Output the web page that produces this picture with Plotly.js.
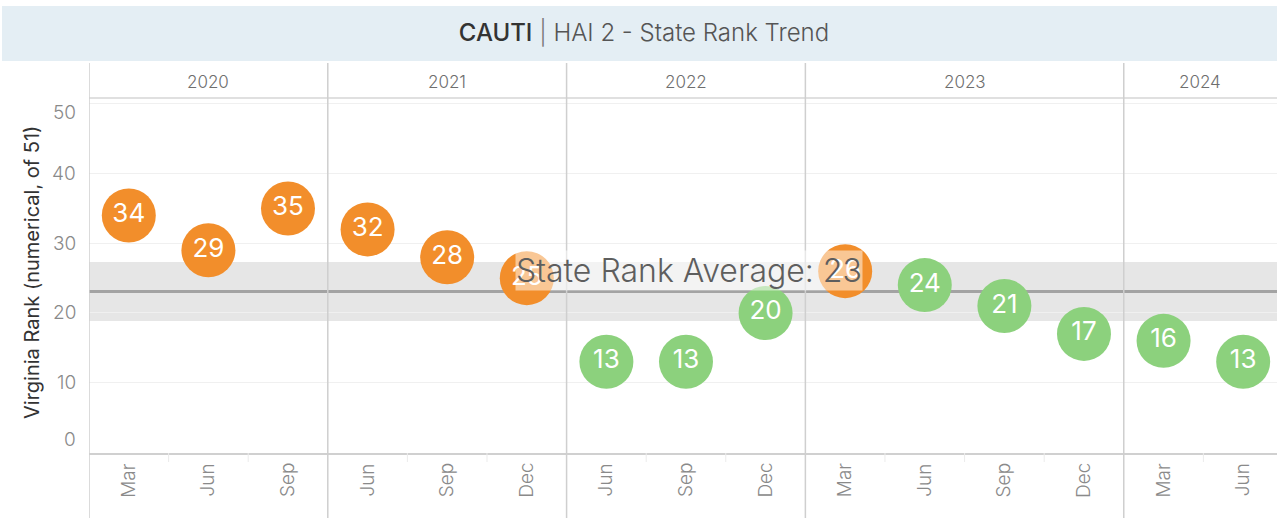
<!DOCTYPE html>
<html>
<head>
<meta charset="utf-8">
<script src="https://cdn.plot.ly/plotly-3.0.1.min.js"></script>
<style>
  html, body { margin: 0; padding: 0; background: #ffffff; }
  #chart { width: 1277px; height: 518px; }
</style>
</head>
<body>
<div id="chart"></div>
<script>
// ---- Data ----
const months = ['Mar','Jun','Sep','Jun','Sep','Dec','Jun','Sep','Dec','Mar','Jun','Sep','Dec','Mar','Jun'];
const years  = ['2020','2020','2020','2021','2021','2021','2022','2022','2022','2023','2023','2023','2023','2024','2024'];
const ranks  = [34, 29, 35, 32, 28, 25, 13, 13, 20, 26, 24, 21, 17, 16, 13];
const yearLabels = ['2020','2021','2022','2023','2024'];
const yTickVals = [0, 10, 20, 30, 40, 50];
const rankThreshold = 25;   // ranks at or above this are drawn orange
const titleBold = 'CAUTI';
const titleRest = 'HAI 2 - State Rank Trend';
const yTitle = 'Virginia Rank (numerical, of 51)';

// ---- Derived statistics (reference line and 95% CI band) ----
const n = ranks.length;
const avg = ranks.reduce((a, b) => a + b, 0) / n;
const sd = Math.sqrt(ranks.reduce((a, b) => a + (b - avg) * (b - avg), 0) / (n - 1));
const tCrit = 2.145; // t(0.975, 14)
const half = tCrit * sd / Math.sqrt(n);
const bandLo = avg - half, bandHi = avg + half;

const FONT = 'Inter, "Open Sans", sans-serif';
const ORANGE = '#f28e2b';
const GREEN = '#8cd17d';

const xs = ranks.map((_, i) => i);
const colors = ranks.map(r => r >= rankThreshold ? ORANGE : GREEN);

// plot geometry helpers (pixels -> paper)
const plotTop = 98, plotBottom = 453, plotH = plotBottom - plotTop;
const plotLeft = 89, plotW = 1277 - 89;
const py = p => (plotBottom - p) / plotH;
const px = p => (p - plotLeft) / plotW;

const trace = {
  type: 'scatter',
  mode: 'markers+text',
  x: xs,
  y: ranks,
  text: ranks.map(String),
  textposition: 'middle center',
  textfont: { family: FONT, size: 26, color: '#ffffff', weight: 400 },
  marker: { size: 54, color: colors, line: { width: 0 } },
  hoverinfo: 'skip',
  cliponaxis: false
};

const shapes = [];
const annotations = [];

// title bar
shapes.push({ type: 'rect', xref: 'paper', yref: 'paper', x0: px(2), x1: 1.01, y0: py(61), y1: py(6),
  fillcolor: '#e4eef4', line: { width: 0 }, layer: 'below' });

// CI band + average line
shapes.push({ type: 'rect', xref: 'paper', yref: 'y', x0: 0, x1: 1, y0: bandLo, y1: bandHi,
  fillcolor: '#e6e6e6', line: { width: 0 }, layer: 'below' });
shapes.push({ type: 'line', xref: 'paper', yref: 'y', x0: 0, x1: 1, y0: avg, y1: avg,
  line: { color: '#a3a3a3', width: 3 }, layer: 'below' });

// header bottom line
shapes.push({ type: 'line', xref: 'paper', yref: 'paper', x0: 0, x1: 1, y0: 1, y1: 1,
  line: { color: '#d6d6d6', width: 1.5 } });

// year separators and header labels
const yearStarts = [];
years.forEach((y, i) => { if (i === 0 || years[i - 1] !== y) yearStarts.push(i); });
yearStarts.forEach((s, k) => {
  shapes.push({ type: 'line', xref: 'x', yref: 'paper', x0: s - 0.5, x1: s - 0.5, y0: py(518), y1: py(63),
    line: { color: '#cfcfcf', width: 1.5 } });
  const e = k + 1 < yearStarts.length ? yearStarts[k + 1] - 1 : n - 1;
  let c = (s + e) / 2;
  if (k === yearStarts.length - 1) c = (s - 0.5 + 14.425) / 2;
  annotations.push({ xref: 'x', yref: 'paper', x: c, y: py(82), text: yearLabels[k], showarrow: false,
    font: { family: FONT, size: 17, color: '#6e6e6e', weight: 300 }, xanchor: 'center', yanchor: 'middle' });
});

// minor month separators below axis
for (let i = 0; i < n - 1; i++) {
  if (years[i] === years[i + 1]) {
    shapes.push({ type: 'line', xref: 'x', yref: 'paper', x0: i + 0.5, x1: i + 0.5, y0: 0, y1: py(462),
      line: { color: '#ebebeb', width: 1 } });
  }
}

// month labels
months.forEach((m, i) => {
  annotations.push({ xref: 'x', yref: 'paper', x: i, y: py(480), text: m, showarrow: false, textangle: -90,
    font: { family: FONT, size: 19, color: '#8a8a8a', weight: 300 }, xanchor: 'center', yanchor: 'middle' });
});

// y tick labels (Tableau keeps edge labels inside)
yTickVals.forEach(v => {
  let shift = 0;
  if (v === 50) shift = -9;
  if (v === 0) shift = 13;
  annotations.push({ xref: 'paper', yref: 'y', x: 0, y: v, text: String(v), showarrow: false,
    xanchor: 'right', yanchor: 'middle', xshift: -11, yshift: shift,
    font: { family: FONT, size: 19, color: '#8a8a8a', weight: 300 } });
});

// y axis title
annotations.push({ xref: 'paper', yref: 'paper', x: px(32), y: py(273), text: yTitle, showarrow: false,
  textangle: -90, xanchor: 'center', yanchor: 'middle', font: { family: FONT, size: 20, color: '#333333' } });

// reference line label
annotations.push({ xref: 'x', yref: 'y', x: 7.04, y: avg, text: 'State Rank Average: ' + Math.round(avg),
  showarrow: false, xanchor: 'center', yanchor: 'bottom', yshift: 1,
  font: { family: FONT, size: 32, color: '#5e5e5e', weight: 300 }, bgcolor: 'rgba(255,255,255,0.5)', borderpad: 0 });

const layout = {
  width: 1277, height: 518,
  margin: { l: plotLeft, r: 0, t: plotTop, b: 518 - plotBottom, pad: 0 },
  paper_bgcolor: '#ffffff', plot_bgcolor: '#ffffff',
  showlegend: false,
  title: {
    text: '<span style="font-weight:500;color:#333">' + titleBold + '</span> <span style="color:#777">|</span> ' + titleRest,
    x: 644 / 1277, xanchor: 'center', y: 1 - 33 / 518, yanchor: 'middle', yref: 'container',
    font: { family: FONT, size: 24, color: '#555555', weight: 300 }
  },
  xaxis: {
    range: [-0.5, 14.425], showgrid: false, zeroline: false, showticklabels: false, ticks: '',
    showline: true, linecolor: '#d0d0d0', linewidth: 1.5, fixedrange: true
  },
  yaxis: {
    range: [-0.1, 50.86], tickvals: yTickVals, showticklabels: false, ticks: '',
    showgrid: true, gridcolor: '#f0f0f0', gridwidth: 1, zeroline: false, fixedrange: true
  },
  shapes: shapes,
  annotations: annotations
};

Plotly.newPlot('chart', [trace], layout, { displayModeBar: false, staticPlot: true });
</script>
</body>
</html>
